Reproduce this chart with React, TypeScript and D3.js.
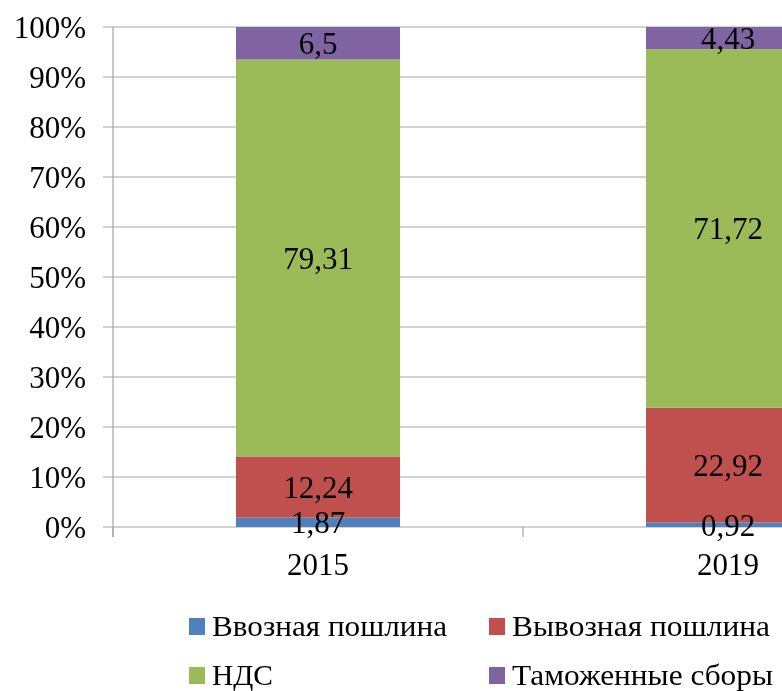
import React from "react";
import * as d3 from "d3";

const categories = ["2015", "2019"];
const seriesNames = ["Ввозная пошлина", "Вывозная пошлина", "НДС", "Таможенные сборы"];
const seriesColors = ["#4F81BD", "#C0504D", "#9BBB59", "#8064A2"];
const importDuty = [1.87, 0.92];
const exportDuty = [12.24, 22.92];
const vat = [79.31, 71.72];
const customsFees = [6.5, 4.43];
const yTicks = [0, 0.1, 0.2, 0.3, 0.4, 0.5, 0.6, 0.7, 0.8, 0.9, 1.0];

const W = 782;
const H = 691;
const FF = 'Tinos, "Liberation Serif", "Times New Roman", FreeSerif, "DejaVu Serif", "Noto Serif", serif';

export default function App() {
  const left = 113;
  const top = 27;
  const bottom = 527;
  const bandW = 410;
  const x = d3
    .scaleBand<string>()
    .domain(categories)
    .range([left, left + bandW * categories.length])
    .paddingInner(0.6)
    .paddingOuter(0.3);
  const y = d3.scaleLinear().domain([0, 1]).range([bottom, top]);

  const rows = categories.map((c, i) => ({
    cat: c,
    s0: importDuty[i],
    s1: exportDuty[i],
    s2: vat[i],
    s3: customsFees[i],
  }));
  const keys = ["s0", "s1", "s2", "s3"];
  const stacked = d3
    .stack<any>()
    .keys(keys)
    .offset(d3.stackOffsetExpand)(rows);
  const rawVals = [importDuty, exportDuty, vat, customsFees];
  const fmt = (v: number) => String(v).replace(".", ",");

  const catEdges = d3.range(categories.length + 1).map((i) => left + bandW * i);

  const legendItems = [
    { i: 0, x: 189, y: 627, w: 235 },
    { i: 1, x: 489, y: 627, w: 258 },
    { i: 2, x: 189, y: 676, w: 61 },
    { i: 3, x: 489, y: 676, w: 261 },
  ];

  return (
    <svg width={W} height={H} style={{ position: "fixed", left: 0, top: 0 }}>
      {yTicks.map((t) => (
        <g key={t}>
          <line x1={103} x2={W} y1={y(t)} y2={y(t)} stroke="#A6A6A6" strokeWidth={1.2} />
          <text
            x={86}
            y={y(t) + 11}
            textAnchor="end"
            fontSize={31}
            style={{ fontFamily: FF }}
          >
            {Math.round(t * 100) + "%"}
          </text>
        </g>
      ))}
      <line x1={left} x2={left} y1={top} y2={bottom + 10} stroke="#A6A6A6" strokeWidth={1.2} />
      {catEdges.map((e, i) => (
        <line key={i} x1={e} x2={e} y1={bottom} y2={bottom + 10} stroke="#A6A6A6" strokeWidth={1.2} />
      ))}
      {stacked.map((layer, li) => (
        <g key={li} fill={seriesColors[li]}>
          {layer.map((d: any, ci: number) => (
            <rect
              key={ci}
              x={x(categories[ci])}
              width={x.bandwidth()}
              y={y(d[1])}
              height={y(d[0]) - y(d[1])}
            />
          ))}
        </g>
      ))}
      {stacked.map((layer, li) =>
        layer.map((d: any, ci: number) => (
          <text
            key={li + "-" + ci}
            x={(x(categories[ci]) as number) + x.bandwidth() / 2}
            y={(y(d[0]) + y(d[1])) / 2 + 11}
            textAnchor="middle"
            fontSize={31}
            style={{ fontFamily: FF }}
          >
            {fmt(rawVals[li][ci])}
          </text>
        ))
      )}
      {categories.map((c) => (
        <text
          key={c}
          x={(x(c) as number) + x.bandwidth() / 2}
          y={575}
          textAnchor="middle"
          fontSize={31}
          style={{ fontFamily: FF }}
        >
          {c}
        </text>
      ))}
      {legendItems.map((it) => (
        <g key={it.i}>
          <rect x={it.x} y={it.y - 9} width={16} height={17} fill={seriesColors[it.i]} />
          <text
            x={it.x + 23}
            y={it.y + 9}
            fontSize={29}
            textLength={it.w}
            lengthAdjust="spacingAndGlyphs"
            style={{ fontFamily: FF }}
          >
            {seriesNames[it.i]}
          </text>
        </g>
      ))}
    </svg>
  );
}
